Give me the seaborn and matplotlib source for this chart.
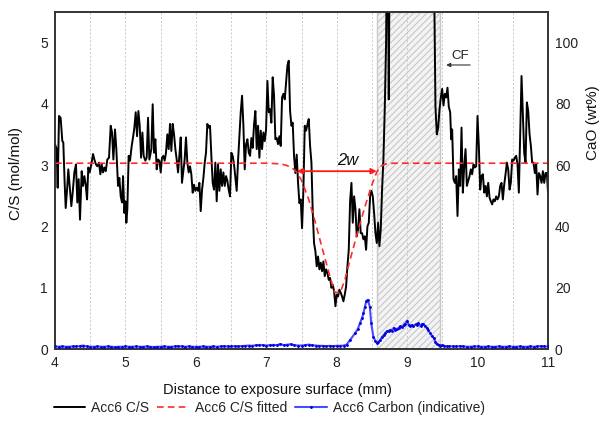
import numpy as np
import pandas as pd
import matplotlib
matplotlib.use("Agg")
import matplotlib.pyplot as plt
from matplotlib.ticker import MultipleLocator
import seaborn as sns

# ---------------- data ----------------
# Acc6 C/S (mol/mol) along the distance to the exposure surface (mm)
cs_dist = [
    4.000, 4.024, 4.038, 4.057, 4.080, 4.104, 4.118, 4.137, 4.152, 4.175, 4.189, 4.213, 4.232, 4.251,
    4.275, 4.298, 4.317, 4.336, 4.355, 4.379, 4.398, 4.417, 4.436, 4.455, 4.473, 4.492, 4.516, 4.540,
    4.559, 4.582, 4.601, 4.625, 4.644, 4.663, 4.682, 4.701, 4.720, 4.743, 4.767, 4.791, 4.810, 4.829,
    4.852, 4.871, 4.895, 4.914, 4.933, 4.952, 4.966, 4.985, 4.999, 5.013, 5.027, 5.046, 5.065, 5.089,
    5.108, 5.127, 5.146, 5.165, 5.184, 5.203, 5.222, 5.241, 5.259, 5.283, 5.302, 5.321, 5.340,
    5.368, 5.387, 5.406, 5.425, 5.444, 5.463, 5.482, 5.501, 5.519, 5.538, 5.557, 5.576, 5.595, 5.614,
    5.633, 5.652, 5.671, 5.690, 5.709, 5.728, 5.747, 5.766, 5.785, 5.803, 5.822, 5.841, 5.860, 5.879,
    5.898, 5.917, 5.936, 5.955, 5.974, 5.993, 6.012, 6.031, 6.050, 6.069, 6.088, 6.107, 6.126, 6.144,
    6.163, 6.182, 6.201, 6.220, 6.239, 6.258, 6.277, 6.296, 6.315, 6.334, 6.353, 6.372, 6.391, 6.410,
    6.429, 6.448, 6.466, 6.485, 6.504, 6.523, 6.542, 6.561, 6.580, 6.599, 6.618, 6.637, 6.656, 6.675,
    6.694, 6.713, 6.732, 6.751, 6.770,
    6.788, 6.807, 6.826, 6.845, 6.864, 6.883, 6.902, 6.921, 6.940, 6.959, 6.978, 6.997, 7.016, 7.035,
    7.054, 7.072, 7.091, 7.110, 7.129, 7.148, 7.167, 7.186, 7.205, 7.224, 7.243, 7.262, 7.281, 7.300,
    7.319, 7.338, 7.357, 7.375, 7.394, 7.413, 7.432, 7.451, 7.470, 7.489, 7.508, 7.527, 7.546, 7.565,
    7.584, 7.603, 7.622, 7.641, 7.660, 7.678, 7.697, 7.716, 7.735, 7.754, 7.773, 7.792, 7.811, 7.830,
    7.849, 7.868, 7.887, 7.906, 7.925, 7.944, 7.963, 7.982, 8.000, 8.019, 8.038, 8.057, 8.076, 8.095,
    8.114, 8.133, 8.152, 8.171, 8.190,
    8.209, 8.228, 8.247, 8.266, 8.284, 8.303, 8.322, 8.341, 8.360, 8.379, 8.398, 8.417, 8.436, 8.455,
    8.474, 8.493, 8.512, 8.531, 8.550, 8.569, 8.588, 8.606, 8.625, 8.644, 8.663, 8.682, 8.701, 8.720,
    8.739, 8.758, 8.777, 8.853, 8.928, 9.004, 9.080, 9.156, 9.231, 9.307, 9.364, 9.383, 9.402, 9.421,
    9.440, 9.459, 9.478, 9.497, 9.516, 9.535, 9.554, 9.573, 9.591,
    9.611, 9.625, 9.639, 9.658, 9.677, 9.696, 9.715, 9.734, 9.753, 9.772, 9.791, 9.810, 9.829, 9.848,
    9.867, 9.886, 9.904, 9.923, 9.942, 9.961, 9.980, 9.999, 10.018, 10.037, 10.056, 10.075, 10.094,
    10.113, 10.132, 10.151, 10.170, 10.188, 10.207, 10.226, 10.245, 10.264, 10.283, 10.302, 10.321,
    10.340, 10.359, 10.378, 10.397, 10.416, 10.435, 10.454, 10.472, 10.491, 10.510, 10.529, 10.548,
    10.567, 10.586, 10.605, 10.624, 10.643, 10.662, 10.681, 10.700, 10.719, 10.738, 10.757, 10.775,
    10.794, 10.813, 10.832, 10.851, 10.870, 10.889, 10.908, 10.927, 10.946, 10.965, 10.984, 11.000,
]
cs_ratio = [
    3.34, 3.26, 2.63, 3.80, 3.77, 3.39, 3.37, 2.71, 2.30, 2.66, 2.93, 2.60, 2.33, 2.55,
    2.88, 3.01, 2.39, 2.77, 2.11, 2.90, 2.66, 2.82, 2.68, 2.44, 2.96, 2.88, 3.01, 3.18,
    3.09, 3.01, 2.98, 3.04, 2.85, 3.01, 2.88, 2.96, 2.90, 3.09, 3.12, 3.64, 3.53, 3.09,
    3.58, 3.26, 2.66, 2.79, 2.49, 2.39, 2.82, 2.22, 2.41, 2.06, 2.28, 3.15, 3.07, 3.31,
    3.45, 3.61, 3.86, 3.47, 3.88, 3.64, 3.12, 3.53, 3.15, 3.07, 3.12, 3.77, 3.09,
    3.26, 3.99, 3.20, 3.42, 2.93, 3.09, 3.07, 2.88, 3.12, 3.15, 3.07, 3.20, 3.50, 3.26,
    3.67, 3.23, 3.67, 3.50, 3.26, 3.09, 2.88, 3.15, 3.45, 2.71, 2.90, 3.09, 3.45, 3.04,
    2.88, 2.98, 2.85, 2.55, 2.68, 2.58, 2.63, 2.58, 2.71, 2.25, 2.60, 2.79, 3.04, 3.20,
    3.67, 3.61, 3.64, 3.15, 2.71, 2.60, 3.04, 2.41, 3.01, 2.58, 2.93, 2.66, 2.88, 2.66,
    2.82, 2.74, 2.60, 2.49, 3.20, 3.15, 3.01, 2.79, 2.58, 3.07, 3.47, 3.86, 4.13, 3.64,
    2.93, 3.34, 3.42, 3.20, 3.15,
    3.44, 3.28, 3.66, 3.88, 3.26, 3.64, 3.12, 3.56, 3.26, 3.53, 3.39, 3.58, 4.37, 3.86,
    3.91, 3.69, 4.43, 4.13, 3.42, 3.44, 3.34, 3.47, 3.31, 4.10, 4.16, 4.07, 4.35, 4.62,
    4.70, 3.88, 3.64, 3.69, 3.15, 2.87, 3.17, 2.71, 2.38, 2.44, 1.97, 2.60, 3.64, 3.56,
    3.66, 3.75, 3.31, 3.04, 2.22, 1.73, 1.60, 1.35, 1.51, 1.30, 1.41, 1.27, 1.43, 1.19,
    1.30, 1.24, 1.13, 1.16, 1.00, 1.05, 0.94, 0.70, 0.89, 0.86, 0.97, 0.92, 0.86, 0.78,
    0.89, 1.02, 1.35, 1.62, 2.41,
    2.71, 2.06, 2.49, 2.28, 1.84, 1.95, 2.28, 1.89, 1.89, 1.79, 1.84, 1.62, 2.00, 2.06,
    2.49, 2.58, 2.49, 2.22, 1.89, 1.73, 2.06, 1.68, 1.95, 2.60, 3.09, 3.91, 5.00, 7.50,
    4.07, 8.00, 9.50, 12.0, 10.5, 14.0, 11.0, 13.0, 10.0, 12.5, 9.00, 6.00, 3.95, 3.50,
    3.60, 3.90, 4.10, 4.24, 3.97, 4.16, 4.10, 4.26, 3.95,
    3.86, 3.42, 3.58, 2.77, 2.71, 2.82, 2.17, 2.93, 2.66, 3.61, 2.55, 2.98, 3.26, 2.66,
    2.74, 2.82, 2.93, 2.85, 3.01, 2.96, 2.98, 3.80, 3.31, 2.60, 2.82, 2.85, 2.55,
    2.66, 2.49, 2.71, 2.47, 2.41, 2.36, 2.44, 2.41, 2.49, 2.44, 2.49, 2.66, 2.71,
    2.44, 2.68, 2.85, 3.04, 2.93, 2.60, 2.71, 3.09, 3.07, 3.12, 3.15, 3.01, 2.55,
    3.53, 4.45, 3.80, 3.20, 3.04, 4.02, 3.88, 3.50, 3.31, 3.04, 3.04, 2.87, 3.01,
    2.52, 2.87, 2.82, 2.71, 2.90, 2.71, 2.87, 2.87, 2.55,
]

# Acc6 C/S fitted profile
fit_dist = [4.0, 7.0, 7.2, 7.3, 7.38, 7.43, 7.5, 7.6, 7.7, 7.8, 7.9, 7.97, 8.05, 8.12,
            8.2, 8.3, 8.4, 8.5, 8.57, 8.63, 8.7, 8.8, 11.0]
fit_ratio = [3.03, 3.03, 3.02, 2.99, 2.94, 2.89, 2.75, 2.45, 2.05, 1.62, 1.20, 0.93, 0.92, 1.15,
             1.50, 1.92, 2.32, 2.68, 2.89, 2.98, 3.02, 3.03, 3.03]

# Acc6 Carbon (indicative), plotted on the right axis scale (wt%)
carbon_dist = [
    4.00, 4.05, 4.10, 4.15, 4.20, 4.25, 4.30, 4.35, 4.40, 4.45, 4.50, 4.55, 4.60, 4.65, 4.70,
    4.75, 4.80, 4.85, 4.90, 4.95, 5.00, 5.05, 5.10, 5.15, 5.20, 5.25, 5.30, 5.35, 5.40, 5.45,
    5.50, 5.55, 5.60, 5.65, 5.70, 5.75, 5.80, 5.85, 5.90, 5.95, 6.00, 6.05, 6.10, 6.15, 6.20,
    6.25, 6.30, 6.35, 6.40, 6.45, 6.50, 6.55, 6.60, 6.65, 6.70, 6.75, 6.80, 6.85, 6.90, 6.95,
    7.00, 7.05, 7.10, 7.15, 7.20, 7.25, 7.30, 7.35, 7.40, 7.45, 7.50, 7.55, 7.60, 7.65, 7.70,
    7.75, 7.80, 7.85, 7.90, 7.95, 8.00, 8.05, 8.10,
    8.14, 8.19, 8.26, 8.30, 8.33, 8.36, 8.38, 8.40, 8.42, 8.44, 8.47, 8.49, 8.52, 8.55, 8.57,
    8.59, 8.62, 8.64, 8.67, 8.69, 8.71, 8.74, 8.76, 8.78, 8.81, 8.83, 8.85, 8.88, 8.90, 8.93,
    8.95, 8.97, 9.00, 9.02, 9.04, 9.07, 9.09, 9.12, 9.14, 9.16, 9.19, 9.21, 9.23, 9.26, 9.28,
    9.30, 9.33, 9.35, 9.38, 9.40, 9.42, 9.45, 9.47, 9.50, 9.52, 9.56,
    9.60, 9.65, 9.70, 9.75, 9.80, 9.85, 9.90, 9.95, 10.00, 10.05, 10.10, 10.15, 10.20, 10.25,
    10.30, 10.35, 10.40, 10.45, 10.50, 10.55, 10.60, 10.65, 10.70, 10.75, 10.80, 10.85, 10.90,
    10.95, 11.00,
]
carbon_wt = [
    0.9, 0.8, 0.9, 0.8, 0.8, 0.9, 0.9, 1.0, 1.2, 0.9, 0.8, 0.8, 0.9, 0.8, 0.8,
    0.9, 0.8, 0.7, 0.8, 0.8, 0.9, 0.8, 0.8, 0.9, 0.8, 0.8, 0.9, 0.8, 0.7, 0.8,
    0.8, 0.9, 0.8, 0.8, 0.9, 1.0, 0.9, 0.8, 0.9, 0.8, 0.8, 0.8, 0.9, 0.8, 0.8,
    0.9, 0.8, 0.9, 1.0, 0.9, 0.9, 1.0, 0.9, 1.0, 1.1, 1.2, 1.1, 1.3, 1.4, 1.3,
    1.2, 1.3, 1.4, 1.3, 1.7, 1.3, 1.5, 1.6, 1.3, 1.2, 1.2, 1.3, 1.5, 1.3, 1.2,
    1.1, 1.1, 1.0, 1.1, 1.0, 1.1, 1.1, 1.2,
    1.5, 3.0, 5.2, 6.6, 8.5, 10.2, 11.8, 13.8, 15.6, 16.1, 13.9, 8.5, 4.1, 2.6, 2.0,
    2.3, 3.0, 3.9, 4.7, 5.2, 5.8, 6.0, 6.3, 6.0, 6.9, 6.4, 6.5, 7.0, 7.4, 7.1,
    7.9, 8.3, 9.3, 8.0, 7.6, 7.9, 7.4, 8.1, 7.9, 8.5, 7.6, 8.2, 8.2, 7.4, 6.9,
    6.2, 5.2, 4.4, 3.6, 2.5, 1.7, 1.4, 1.2, 1.3, 1.2, 0.9,
    1.0, 0.9, 0.9, 1.0, 0.9, 0.8, 0.8, 0.9, 0.9, 0.8, 0.8, 0.9, 0.8, 0.8,
    0.9, 0.8, 0.8, 0.9, 0.8, 0.8, 0.9, 0.8, 0.8, 0.9, 0.8, 0.9, 1.0,
    0.9, 0.9,
]

x_ticks = [4, 5, 6, 7, 8, 9, 10, 11]
left_ticks = [0, 1, 2, 3, 4, 5]
right_ticks = [0, 20, 40, 60, 80, 100]
series_labels = ["Acc6 C/S", "Acc6 C/S fitted", "Acc6 Carbon (indicative)"]

cf_zone = (8.57, 9.47)   # hatched CF zone (mm)
w_ends = (7.433, 8.569)  # 2w arrow ends (mm)
w_level = 2.90

# ---------------- style ----------------
sns.set_style("white")
plt.rcParams['font.family'] = ['Liberation Sans', 'DejaVu Sans']
plt.rcParams['hatch.linewidth'] = 0.8
plt.rcParams['hatch.color'] = '#c4c4c4'

fig = plt.figure(figsize=(6.05, 4.29), dpi=100)
ax = fig.add_axes([0.0909, 0.186, 0.8149, 0.787])

cs_df = pd.DataFrame({"dist": cs_dist, "cs": cs_ratio})
fit_df = pd.DataFrame({"dist": fit_dist, "cs": fit_ratio})
c_df = pd.DataFrame({"dist": carbon_dist, "c": carbon_wt})

ax.axvspan(cf_zone[0], cf_zone[1], facecolor='#f3f3f3', edgecolor='#c8c8c8',
           hatch='/////', lw=1.0, zorder=0.5)

sns.lineplot(data=cs_df, x="dist", y="cs", ax=ax, color='black', lw=1.4,
             sort=False, estimator=None, legend=False, zorder=3)
sns.lineplot(data=fit_df, x="dist", y="cs", ax=ax, color='#ff2a2a', lw=1.2,
             linestyle=(0, (4, 2.5)), sort=False, estimator=None, legend=False, zorder=4)

ax.set_xlim(4, 11)
ax.set_ylim(0, 5.5)
ax.set_xticks(x_ticks)
ax.xaxis.set_minor_locator(MultipleLocator(0.5))
ax.set_yticks(left_ticks)
ax.grid(axis='x', which='both', color='#c8c8c8', ls=(0, (2, 2)), lw=0.7)
ax.set_axisbelow(True)
ax.tick_params(axis='both', which='both', length=0, labelsize=10, colors='#222222')
ax.tick_params(axis='x', pad=5)
ax.tick_params(axis='y', pad=5)
ax.set_xlabel("Distance to exposure surface (mm)", fontsize=10.5, color='#111111')
ax.xaxis.set_label_coords(0.452, -0.10)
ax.set_ylabel("C/S (mol/mol)", fontsize=11, color='#111111')
ax.yaxis.set_label_coords(-0.064, 0.52)

ax2 = ax.twinx()
sns.lineplot(data=c_df, x="dist", y="c", ax=ax2, color='#4a4aff', lw=1.5,
             marker='.', markersize=2.5, markerfacecolor='#0000dd', markeredgecolor='#0000dd',
             sort=False, estimator=None, legend=False, zorder=3)
ax2.set_ylim(0, 110)
ax2.set_yticks(right_ticks)
ax2.tick_params(axis='y', length=0, labelsize=10, colors='#222222', pad=5)
ax2.set_ylabel("CaO (wt%)", fontsize=11, color='#111111')
ax2.yaxis.set_label_coords(1.077, 0.67)
ax2.set_xlim(4, 11)

for a in (ax, ax2):
    for s in a.spines.values():
        s.set_color('#333333')
        s.set_linewidth(1.2)

# 2w arrow and label
ax.annotate('', xy=(w_ends[0], w_level), xytext=(w_ends[1], w_level),
            arrowprops=dict(arrowstyle='<|-|>', color='#ff1a1a', lw=1.3,
                            mutation_scale=8, shrinkA=0, shrinkB=0), zorder=6)
ax.text(8.155, 3.07, '2w', style='italic', ha='center', va='center', fontsize=12,
        color='#111111', zorder=6)

# CF label
ax.annotate('', xy=(9.554, 4.63), xytext=(9.895, 4.63),
            arrowprops=dict(arrowstyle='-|>', color='#333333', lw=0.8,
                            mutation_scale=6, shrinkA=0, shrinkB=0), zorder=6)
ax.text(9.753, 4.77, 'CF', ha='center', va='center', fontsize=9.5, color='#222222', zorder=6)

handles = [ax.get_lines()[0], ax.get_lines()[1], ax2.get_lines()[0]]
fig.legend(handles, series_labels, loc='center', bbox_to_anchor=(0.445, 0.049), ncol=3,
           frameon=False, handlelength=2.3, handletextpad=0.4, columnspacing=0.6,
           fontsize=10, numpoints=1)

fig.savefig("out.png", dpi=100)
